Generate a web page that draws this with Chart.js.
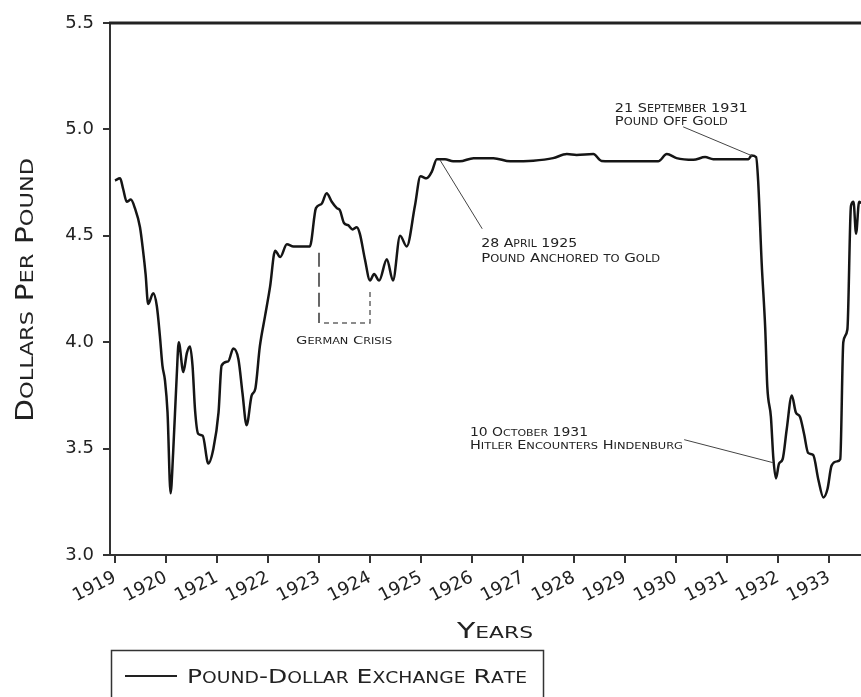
<!DOCTYPE html>
<html>
<head>
<meta charset="utf-8">
<script src="https://cdn.jsdelivr.net/npm/chart.js@4.4.1/dist/chart.umd.min.js"></script>
<style>
  body { margin: 0; background: #fff; }
  canvas { display: block; }
</style>
</head>
<body>
<canvas id="rateChart" width="861" height="697"></canvas>
<script>
// monthly-ish readings, decimal years
const years = [
  1919.00, 1919.10, 1919.16, 1919.23, 1919.31, 1919.39, 1919.49, 1919.55, 1919.60, 1919.65,
  1919.75, 1919.82, 1919.88, 1919.93, 1919.98, 1920.03, 1920.09, 1920.14, 1920.21, 1920.25,
  1920.34, 1920.41, 1920.47, 1920.52, 1920.57, 1920.63, 1920.72, 1920.83, 1920.93, 1921.03,
  1921.09, 1921.22, 1921.32, 1921.42, 1921.50, 1921.58, 1921.68, 1921.75, 1921.84, 1921.94,
  1922.04, 1922.14, 1922.24, 1922.37, 1922.50, 1922.82, 1922.94, 1923.05, 1923.15, 1923.25,
  1923.35, 1923.41, 1923.49, 1923.57, 1923.66, 1923.74, 1923.80, 1923.90, 1924.00, 1924.08,
  1924.18, 1924.33, 1924.45, 1924.59, 1924.72, 1924.88, 1924.99, 1925.11, 1925.21, 1925.31,
  1925.34, 1925.47, 1925.63, 1925.76, 1926.03, 1926.42, 1926.75, 1927.20, 1927.59, 1927.86,
  1928.05, 1928.38, 1928.54, 1928.90, 1929.43, 1929.65, 1929.82, 1930.01, 1930.34, 1930.57,
  1930.73, 1931.12, 1931.42, 1931.48, 1931.57, 1931.61, 1931.68, 1931.75, 1931.79, 1931.86,
  1931.91, 1931.96, 1932.02, 1932.09, 1932.17, 1932.27, 1932.35, 1932.43, 1932.51, 1932.59,
  1932.69, 1932.79, 1932.89, 1932.97, 1933.05, 1933.16, 1933.22, 1933.28, 1933.36, 1933.43,
  1933.48, 1933.53, 1933.59, 1933.63, 1933.70
];
const rates = [
  4.76, 4.77, 4.72, 4.66, 4.67, 4.63, 4.54, 4.43, 4.32, 4.18,
  4.23, 4.17, 4.03, 3.89, 3.82, 3.67, 3.29, 3.48, 3.84, 4.00,
  3.86, 3.95, 3.98, 3.89, 3.68, 3.57, 3.56, 3.43, 3.50, 3.67,
  3.89, 3.91, 3.97, 3.92, 3.76, 3.61, 3.75, 3.78, 3.98, 4.12,
  4.26, 4.43, 4.40, 4.46, 4.45, 4.45, 4.63, 4.65, 4.70, 4.66,
  4.63, 4.62, 4.56, 4.55, 4.53, 4.54, 4.51, 4.39, 4.29, 4.32,
  4.29, 4.39, 4.29, 4.50, 4.45, 4.64, 4.78, 4.77, 4.80, 4.86,
  4.86, 4.86, 4.85, 4.85, 4.865, 4.865, 4.85, 4.853, 4.865, 4.884,
  4.88, 4.884, 4.852, 4.85, 4.85, 4.85, 4.884, 4.865, 4.857, 4.87,
  4.86, 4.86, 4.86, 4.877, 4.87, 4.76, 4.37, 4.06, 3.79, 3.65,
  3.45, 3.36, 3.43, 3.45, 3.59, 3.75, 3.67, 3.65, 3.57, 3.48,
  3.47, 3.355, 3.27, 3.31, 3.42, 3.44, 3.45, 4.00, 4.06, 4.64,
  4.66, 4.51, 4.66, 4.655, 4.68
];
const yearTicks = [1919, 1920, 1921, 1922, 1923, 1924, 1925, 1926, 1927, 1928, 1929, 1930, 1931, 1932, 1933];
const rateTicks = [3.0, 3.5, 4.0, 4.5, 5.0, 5.5];
const seriesLabel = 'Pound-Dollar Exchange Rate';
const xTitle = 'Years';
const yTitle = 'Dollars Per Pound';

// notes: text lines anchored in data units, leader line from/to in data units
const notes = [
  { lines: ['21 September 1931', 'Pound Off Gold'], x: 1928.80, y: [5.082, 5.021], w: [133, 113],
    big: 13, small: 10, from: [1930.14, 5.012], to: [1931.49, 4.876] },
  { lines: ['28 April 1925', 'Pound Anchored to Gold'], x: 1926.18, y: [4.448, 4.378], w: [96, 179],
    big: 13, small: 10, from: [1926.20, 4.533], to: [1925.37, 4.857] },
  { lines: ['10 October 1931', 'Hitler Encounters Hindenburg'], x: 1925.96, y: [3.561, 3.500], w: [118, 213],
    big: 12, small: 9.5, from: [1930.16, 3.542], to: [1931.90, 3.434] },
  { lines: ['German Crisis'], x: 1922.55, y: [3.993], w: [96], big: 11, small: 8.5 }
];
const crisisStart = 1923, crisisEnd = 1924;

const FONT = '"DejaVu Sans", sans-serif';

function drawSmallCaps(ctx, text, x, y, big, small, width, align) {
  const parts = [];
  let natural = 0;
  for (const ch of text) {
    const lower = ch !== ch.toUpperCase();
    const size = lower ? small : big;
    ctx.font = size + 'px ' + FONT;
    const t = ch.toUpperCase();
    const w = ctx.measureText(t).width;
    parts.push({ t, size, w });
    natural += w;
  }
  const sx = width ? width / natural : 1;
  const total = natural * sx;
  let start = x;
  if (align === 'center') start = x - total / 2;
  else if (align === 'right') start = x - total;
  ctx.save();
  ctx.translate(start, y);
  ctx.scale(sx, 1);
  ctx.textBaseline = 'alphabetic';
  ctx.textAlign = 'left';
  let cx = 0;
  parts.forEach(p => {
    ctx.font = p.size + 'px ' + FONT;
    ctx.fillText(p.t, cx, 0);
    cx += p.w;
  });
  ctx.restore();
}

const decorations = {
  id: 'decorations',
  afterDraw(chart) {
    const { ctx, chartArea } = chart;
    const xs = chart.scales.x, ys = chart.scales.y;
    const px = v => xs.getPixelForValue(v);
    const py = v => ys.getPixelForValue(v);

    ctx.save();
    // heavy top frame line
    ctx.strokeStyle = '#222';
    ctx.lineWidth = 3;
    ctx.beginPath();
    ctx.moveTo(chartArea.left - 1, chartArea.top);
    ctx.lineTo(chartArea.right, chartArea.top);
    ctx.stroke();

    ctx.fillStyle = '#222';
    // axis titles
    drawSmallCaps(ctx, xTitle, 495, 638, 22, 16, 76, 'center');
    ctx.save();
    ctx.translate(33, 290);
    ctx.rotate(-Math.PI / 2);
    drawSmallCaps(ctx, yTitle, 0, 0, 24, 18, 264, 'center');
    ctx.restore();

    // legend box
    ctx.strokeStyle = '#333';
    ctx.lineWidth = 1.5;
    ctx.strokeRect(111.5, 650.5, 432, 60);
    ctx.strokeStyle = '#222';
    ctx.lineWidth = 2;
    ctx.beginPath();
    ctx.moveTo(125, 676);
    ctx.lineTo(177, 676);
    ctx.stroke();
    drawSmallCaps(ctx, seriesLabel, 187, 683, 20, 15, 340, 'left');

    // notes and leader lines
    notes.forEach(n => {
      n.lines.forEach((line, i) => {
        drawSmallCaps(ctx, line, px(n.x), py(n.y[i]), n.big, n.small, n.w[i], 'left');
      });
      if (n.from) {
        ctx.strokeStyle = '#444';
        ctx.lineWidth = 1;
        ctx.beginPath();
        ctx.moveTo(px(n.from[0]), py(n.from[1]));
        ctx.lineTo(px(n.to[0]), py(n.to[1]));
        ctx.stroke();
      }
    });

    // german crisis bracket
    ctx.strokeStyle = '#666';
    ctx.lineWidth = 2;
    ctx.setLineDash([14, 6]);
    ctx.beginPath();
    ctx.moveTo(px(crisisStart), py(4.42));
    ctx.lineTo(px(crisisStart), py(4.09));
    ctx.stroke();
    ctx.lineWidth = 1.5;
    ctx.setLineDash([5, 4]);
    ctx.beginPath();
    ctx.moveTo(px(crisisStart) + 5, py(4.09));
    ctx.lineTo(px(crisisEnd), py(4.09));
    ctx.lineTo(px(crisisEnd), py(4.24));
    ctx.stroke();
    ctx.restore();
  }
};

const ctx = document.getElementById('rateChart').getContext('2d');
new Chart(ctx, {
  type: 'line',
  data: {
    datasets: [{
      label: seriesLabel,
      data: years.map((x, i) => ({ x, y: rates[i] })),
      borderColor: '#151515',
      borderWidth: 2.5,
      pointRadius: 0,
      cubicInterpolationMode: 'monotone',
      fill: false
    }]
  },
  options: {
    responsive: false,
    animation: false,
    layout: { padding: { left: 0, top: 23, right: 0, bottom: 0 } },
    plugins: { legend: { display: false }, tooltip: { enabled: false } },
    scales: {
      x: {
        type: 'linear',
        min: 1918.902,
        max: 1933.627,
        afterBuildTicks: s => { s.ticks = yearTicks.map(v => ({ value: v })); },
        afterFit: s => { s.height = 142; },
        border: { display: true, color: '#333', width: 2 },
        grid: { drawOnChartArea: false, drawTicks: true, tickLength: 8, color: '#333', lineWidth: 2 },
        ticks: {
          autoSkip: false,
          minRotation: 27,
          maxRotation: 27,
          padding: 4,
          color: '#222',
          font: { family: FONT, size: 18 },
          callback: v => String(v)
        }
      },
      y: {
        min: 3.0,
        max: 5.5,
        afterBuildTicks: s => { s.ticks = rateTicks.map(v => ({ value: v })); },
        afterFit: s => { s.width = 110; },
        border: { display: true, color: '#333', width: 2 },
        grid: { drawOnChartArea: false, drawTicks: true, tickLength: 7, color: '#333', lineWidth: 2 },
        ticks: {
          padding: 9,
          color: '#222',
          font: { family: FONT, size: 18 },
          callback: v => v.toFixed(1)
        }
      }
    }
  },
  plugins: [decorations]
});
</script>
</body>
</html>
